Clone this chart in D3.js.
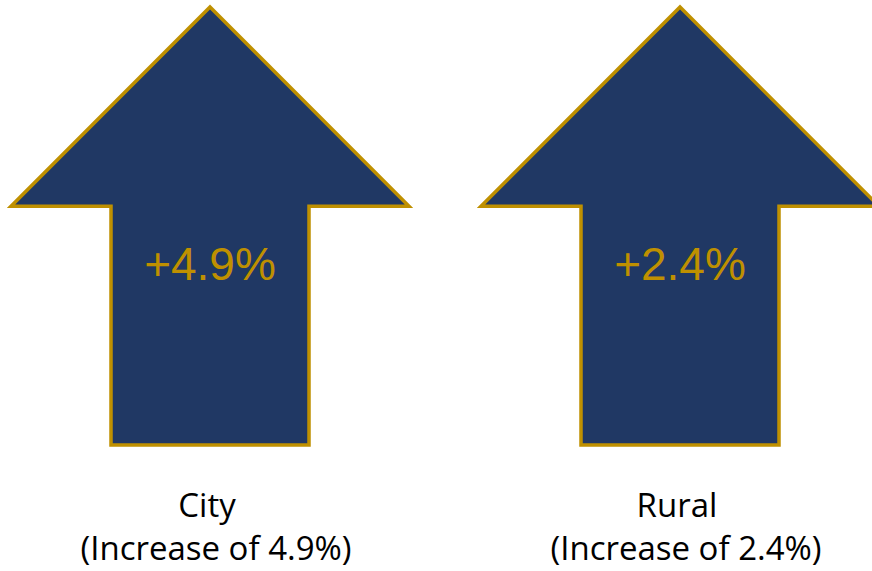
<html lang="en">
<head>
    <meta charset="utf-8">
    <style type="text/css">
        body { margin: 0; background: #fff; }
        .arrow { fill: #203864; stroke: #BF9000; stroke-width: 3.5px; stroke-linejoin: miter; }
        .pct { fill: #BF9000; font-family: "Liberation Sans", Arial, sans-serif; font-size: 46px; text-anchor: middle; }
        .label { fill: #000; font-family: "Open Sans", sans-serif; font-size: 33px; text-anchor: middle; }
    </style>
</head>
<body>
<svg width="872" height="571"></svg>

<script src="https://cdn.jsdelivr.net/npm/d3@7"></script>
<script type="text/javascript">
    var categories = ["City", "Rural"];
    var values = [4.9, 2.4];
    var labels = ["(Increase of 4.9%)", "(Increase of 2.4%)"];

    var svg = d3.select("svg"),
        width = +svg.attr("width"),
        height = +svg.attr("height");

    var x = d3.scalePoint()
        .domain(categories)
        .range([210, 680]);

    var y = d3.scaleLinear()
        .domain([0, 1])
        .range([445, 7]);

    // arrow outline: half widths relative to centre, heights 0..1
    var headHalf = 199, shaftHalf = 99, neck = 0.545;
    function arrowPath(cx) {
        var pts = [
            [cx, y(1)],
            [cx + headHalf, y(neck)],
            [cx + shaftHalf, y(neck)],
            [cx + shaftHalf, y(0)],
            [cx - shaftHalf, y(0)],
            [cx - shaftHalf, y(neck)],
            [cx - headHalf, y(neck)]
        ];
        return d3.line()(pts) + "Z";
    }

    var g = svg.selectAll(".item")
        .data(categories)
        .enter()
        .append("g")
        .attr("class", "item");

    g.append("path")
        .attr("class", "arrow")
        .attr("d", function (d) { return arrowPath(x(d)); });

    g.append("text")
        .attr("class", "pct")
        .attr("x", function (d) { return x(d); })
        .attr("y", 280)
        .text(function (d, i) { return "+" + values[i].toFixed(1) + "%"; });

    g.append("text")
        .attr("class", "label")
        .attr("x", function (d) { return x(d) - 3; })
        .attr("y", 517)
        .text(function (d) { return d; });

    g.append("text")
        .attr("class", "label")
        .attr("x", function (d) { return x(d) + 6; })
        .attr("y", 560)
        .text(function (d, i) { return labels[i]; });
</script>
</body>
</html>
